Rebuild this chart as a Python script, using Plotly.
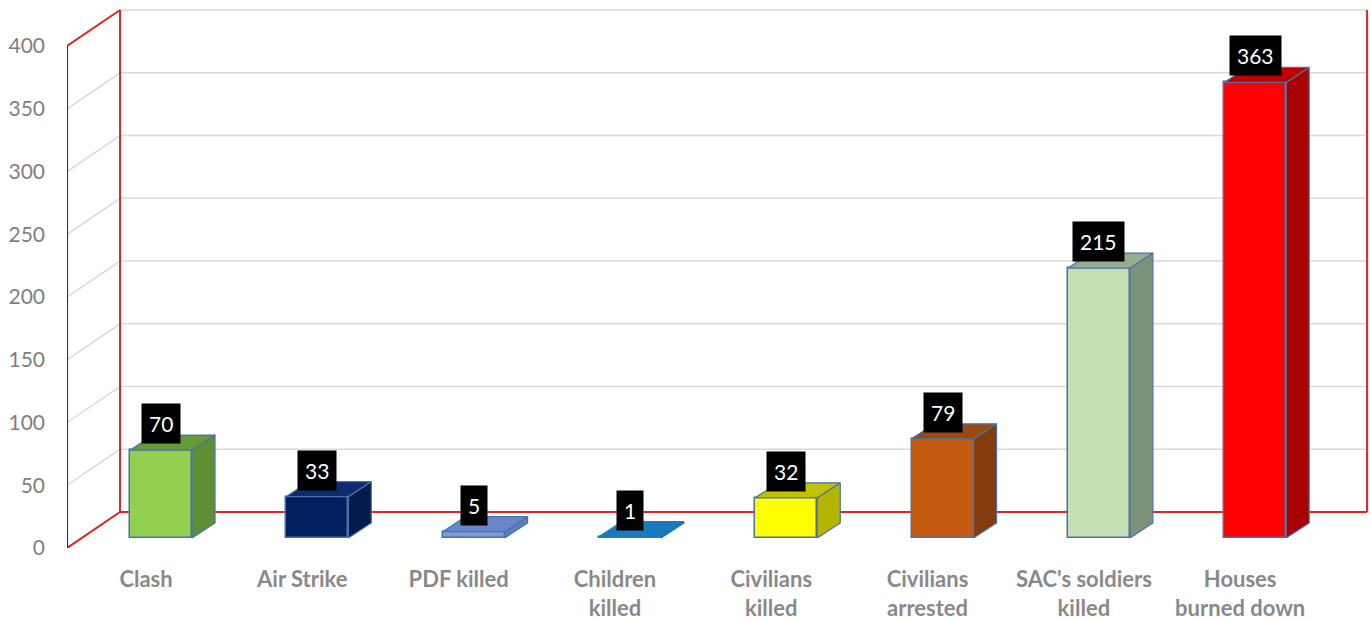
import plotly.graph_objects as go

# ---- data ----
categories = ["Clash", "Air Strike", "PDF killed", "Children<br>killed", "Civilians<br>killed",
              "Civilians<br>arrested", "SAC's soldiers<br>killed", "Houses<br>burned down"]
values = [70, 33, 5, 1, 32, 79, 215, 363]
front_colors = ["#92D050", "#002060", "#7C9AD9", "#1F80C4", "#FFFF00", "#C55A11", "#C5E0B4", "#FF0000"]
side_colors = ["#5E8F33", "#021A4C", "#5F7CBF", "#1A72B0", "#B5B500", "#843C0C", "#7D9379", "#A80000"]
top_colors = ["#649A37", "#0D2C6E", "#6A88C8", "#1B79BC", "#C2C200", "#9A4A10", "#95AD90", "#C00000"]
y_ticks = [0, 50, 100, 150, 200, 250, 300, 350, 400]
y_tick_labels = [str(v) for v in y_ticks]

# ---- geometry (3D look) ----
BAR_W = 0.397          # front face width (category units)
DEPTH_X = 0.147        # bar depth shift in x
DEPTH_Y = 12.0         # bar depth shift in y (value units)
XF0, OFF_F = -0.601, -7.97   # front edge of left wall, y-offset of front plane
XB0, OFF_B = -0.262, 20.7    # back edge of left wall, y-offset of back plane
XB1 = 7.716                  # right end of back wall
LABEL_DX = -0.096
X_RANGE = [-0.6014, 7.741]
Y_RANGE = [-7.97, 428.7]
GRID_C = "#D9D9D9"
RED_C = "#E02424"
OUTLINE_C = "#4A72A8"

fig = go.Figure()

def line(xs, ys, color, width):
    fig.add_trace(go.Scatter(x=xs, y=ys, mode="lines", line=dict(color=color, width=width),
                             hoverinfo="skip", showlegend=False, xaxis="x", yaxis="y"))

top_v = y_ticks[-1]
# back wall grid lines
for v in y_ticks[1:]:
    line([XB0, XB1], [v + OFF_B, v + OFF_B], GRID_C, 1.5)
# left wall diagonal grid lines
for v in y_ticks[1:-1]:
    line([XF0, XB0], [v + OFF_F, v + OFF_B], GRID_C, 1.5)
# red frame
line([XF0, XB0, XB1], [OFF_F, OFF_B, OFF_B], RED_C, 2)
line([XF0, XB0], [top_v + OFF_F, top_v + OFF_B], RED_C, 2)
line([XB0, XB0], [OFF_B, top_v + OFF_B], RED_C, 2)
line([XB1, XB1], [OFF_B, top_v + OFF_B], RED_C, 2)
line([XF0, XF0], [OFF_F, top_v + OFF_F], "#4A2A2A", 2)

# bars (on an overlaid axis pair so they sit above the walls)
xs = list(range(len(values)))
for i, v in enumerate(values):
    xl, xr = i - BAR_W / 2, i + BAR_W / 2
    # side face
    fig.add_trace(go.Scatter(
        x=[xr, xr, xr + DEPTH_X, xr + DEPTH_X, xr],
        y=[0, v, v + DEPTH_Y, DEPTH_Y, 0],
        mode="lines", fill="toself", fillcolor=side_colors[i],
        line=dict(color=OUTLINE_C if v > 2 else side_colors[i], width=1.2),
        hoverinfo="skip", showlegend=False, xaxis="x2", yaxis="y2"))
    # top face
    fig.add_trace(go.Scatter(
        x=[xl, xr, xr + DEPTH_X, xl + DEPTH_X, xl],
        y=[v, v, v + DEPTH_Y, v + DEPTH_Y, v],
        mode="lines", fill="toself", fillcolor=top_colors[i],
        line=dict(color=OUTLINE_C if v > 2 else top_colors[i], width=1.2),
        hoverinfo="skip", showlegend=False, xaxis="x2", yaxis="y2"))

# front faces
fig.add_trace(go.Bar(
    x=xs, y=values, width=BAR_W,
    marker=dict(color=front_colors, line=dict(color=OUTLINE_C, width=1.5)),
    showlegend=False, hoverinfo="skip", xaxis="x2", yaxis="y2"))

# data labels
for i, v in enumerate(values):
    fig.add_annotation(x=i, y=v, xref="x2", yref="y2", text=str(v), showarrow=False,
                       yanchor="bottom", yshift=6, bgcolor="black", borderpad=7,
                       font=dict(family="Lato", size=21, color="white"))

fig.update_layout(
    width=1371, height=620,
    margin=dict(l=67, r=0, t=0, b=72, autoexpand=False),
    paper_bgcolor="white", plot_bgcolor="white",
    bargap=0,
    xaxis=dict(range=X_RANGE, showgrid=False, zeroline=False, showline=False, automargin=False,
               tickmode="array", tickvals=[i + LABEL_DX for i in xs], ticktext=categories,
               ticks="", ticklabelstandoff=16,
               tickfont=dict(family="Lato", size=22, color="#898989", weight="bold")),
    yaxis=dict(range=Y_RANGE, showgrid=False, zeroline=False, showline=False, automargin=False,
               tickmode="array", tickvals=[v + OFF_F for v in y_ticks], ticktext=y_tick_labels,
               ticks="", ticklabelstandoff=21,
               tickfont=dict(family="Lato", size=21, color="#7F7F7F")),
    xaxis2=dict(range=X_RANGE, overlaying="x", visible=False),
    yaxis2=dict(range=Y_RANGE, overlaying="y", visible=False),
)

fig.write_html("out.html", config={"displayModeBar": False},
               post_script="document.body.style.margin='0';")
